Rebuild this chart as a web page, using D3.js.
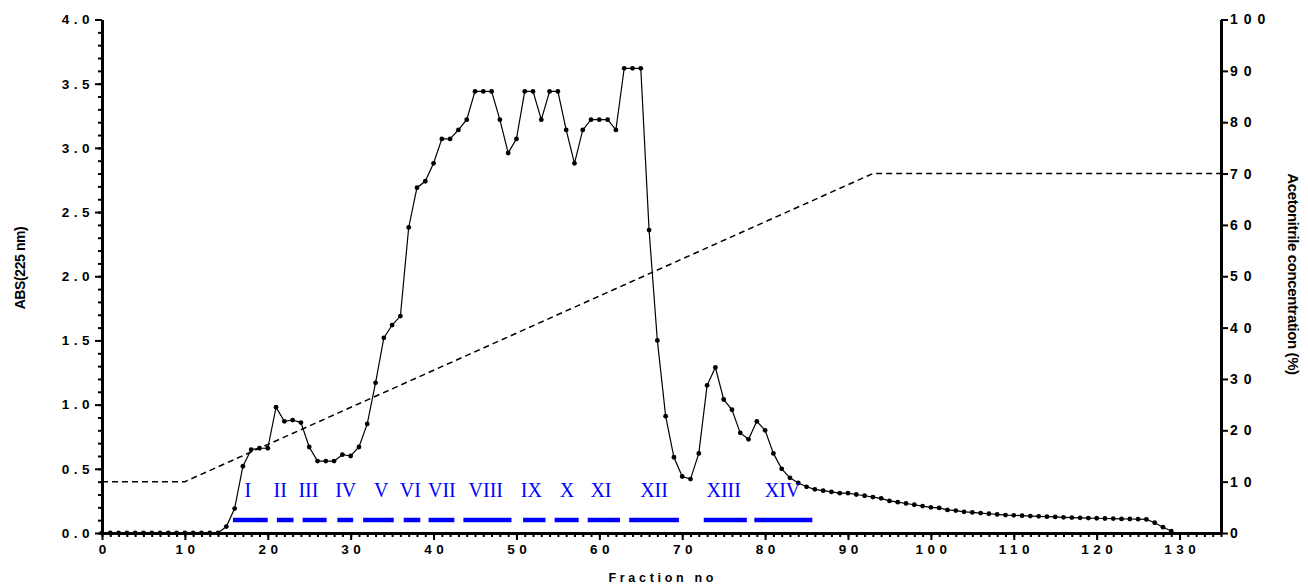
<!DOCTYPE html>
<html>
<head>
<meta charset="utf-8">
<script src="https://cdn.jsdelivr.net/npm/d3@7"></script>
<style>
  body { margin: 0; background: #fff; }
  svg { display: block; }
  .tick-label { font-family: "Liberation Sans", Arial, sans-serif; font-weight: bold; fill: #000; }
</style>
</head>
<body>
<svg id="chart" width="1308" height="586"></svg>
<script>
// absorbance at 225 nm, one value per fraction (fraction number = index)
const absValues = [
  0, 0, 0, 0, 0, 0, 0, 0, 0, 0,
  0, 0, 0, 0, 0, 0.05, 0.19, 0.52, 0.65, 0.66,
  0.66, 0.98, 0.87, 0.88, 0.86, 0.67, 0.56, 0.56, 0.56, 0.61,
  0.60, 0.67, 0.85, 1.17, 1.52, 1.62, 1.69, 2.38, 2.69, 2.74,
  2.88, 3.07, 3.07, 3.14, 3.22, 3.44, 3.44, 3.44, 3.22, 2.96,
  3.07, 3.44, 3.44, 3.22, 3.44, 3.44, 3.14, 2.88, 3.14, 3.22,
  3.22, 3.22, 3.14, 3.62, 3.62, 3.62, 2.36, 1.50, 0.91, 0.59,
  0.44, 0.42, 0.62, 1.15, 1.29, 1.04, 0.96, 0.78, 0.73, 0.87,
  0.80, 0.62, 0.50, 0.43, 0.39, 0.36, 0.34, 0.33, 0.32, 0.31,
  0.31, 0.30, 0.29, 0.28, 0.27, 0.25, 0.24, 0.23, 0.22, 0.21,
  0.20, 0.195, 0.18, 0.175, 0.165, 0.16, 0.155, 0.15, 0.145, 0.14,
  0.138, 0.135, 0.132, 0.13, 0.127, 0.125, 0.122, 0.12, 0.118, 0.116,
  0.115, 0.113, 0.112, 0.11, 0.109, 0.108, 0.106, 0.08, 0.045, 0.015
]

// acetonitrile gradient (%)
const gradientFraction = [0, 10, 93, 135]
const gradientPercent = [10, 10, 70, 70]

// pooled peaks
const poolNames = ["I", "II", "III", "IV", "V", "VI", "VII", "VIII", "IX", "X", "XI", "XII", "XIII", "XIV"]
const poolLabelAt = [17.6, 21.5, 24.9, 29.4, 33.7, 37.2, 41.0, 46.3, 51.8, 56.1, 60.2, 66.6, 75.0, 82.1]
const poolStart = [15.8, 21.1, 24.2, 28.4, 31.5, 36.4, 39.4, 43.6, 50.8, 54.6, 58.6, 63.6, 72.6, 78.7]
const poolEnd   = [20.0, 23.1, 27.1, 30.3, 35.2, 38.4, 42.5, 49.4, 53.5, 57.5, 62.5, 69.6, 77.8, 85.7]

// axis ticks
const xMajorTicks = [0, 10, 20, 30, 40, 50, 60, 70, 80, 90, 100, 110, 120, 130]
const yLeftTicks = [0, 0.5, 1.0, 1.5, 2.0, 2.5, 3.0, 3.5, 4.0]
const yRightTicks = [0, 10, 20, 30, 40, 50, 60, 70, 80, 90, 100]

const svg = d3.select("#chart")

const x = d3.scaleLinear().domain([0, 135]).range([102, 1221])
const y = d3.scaleLinear().domain([0, 4]).range([533, 19.5])
const y2 = d3.scaleLinear().domain([0, 100]).range([533, 19.5])

const fontFam = '"Liberation Sans", Arial, sans-serif'

// ---- gradient (dashed)
const gradLine = d3.line().x(d => x(d[0])).y(d => y2(d[1]))
svg.append("path")
  .attr("d", gradLine(gradientFraction.map((f, i) => [f, gradientPercent[i]])))
  .attr("fill", "none")
  .attr("stroke", "#000")
  .attr("stroke-width", 1.5)
  .attr("stroke-dasharray", "6,4")

// ---- absorbance trace
const absData = absValues.map((v, i) => ({ f: i, v: v }))
svg.append("path")
  .attr("d", d3.line().x(d => x(d.f)).y(d => y(d.v))(absData))
  .attr("fill", "none")
  .attr("stroke", "#000")
  .attr("stroke-width", 1.2)

svg.append("g").selectAll("circle")
  .data(absData)
  .join("circle")
    .attr("cx", d => x(d.f))
    .attr("cy", d => y(d.v))
    .attr("r", 2.4)
    .attr("fill", "#000")

// ---- pool bars & labels
const pools = poolNames.map((n, i) => ({ name: n, at: poolLabelAt[i], s: poolStart[i], e: poolEnd[i] }))
svg.append("g").selectAll("line")
  .data(pools)
  .join("line")
    .attr("x1", d => x(d.s))
    .attr("x2", d => x(d.e))
    .attr("y1", 520)
    .attr("y2", 520)
    .attr("stroke", "#0000ff")
    .attr("stroke-width", 4.5)

svg.append("g").selectAll("text")
  .data(pools)
  .join("text")
    .attr("x", d => x(d.at))
    .attr("y", 497)
    .attr("text-anchor", "middle")
    .attr("font-family", '"Liberation Serif", "Times New Roman", serif')
    .attr("font-size", 20)
    .attr("fill", "#0000ff")
    .text(d => d.name)

// ---- axes
function styleAxis(g) {
  g.select(".domain").attr("stroke", "#000").attr("stroke-width", 3)
  g.selectAll(".tick line").attr("stroke", "#000").attr("stroke-width", 2)
}

// x axis: minor ticks every fraction, major every 10
const xMinor = svg.append("g")
  .attr("transform", "translate(0,533)")
  .call(d3.axisBottom(x).tickValues(d3.range(0, 136, 1)).tickSize(4).tickFormat(""))
xMinor.select(".domain").remove()
xMinor.selectAll(".tick line").attr("stroke", "#000").attr("stroke-width", 2)

const xAxis = svg.append("g")
  .attr("transform", "translate(0,533)")
  .call(d3.axisBottom(x).tickValues(xMajorTicks).tickSize(7).tickSizeOuter(0).tickPadding(5))
styleAxis(xAxis)
xAxis.selectAll(".tick text")
  .attr("class", "tick-label")
  .attr("font-family", fontFam)
  .attr("font-size", 13.5)
  .attr("letter-spacing", 4.5)
  .attr("dx", 2.2)
  .attr("y", 11)
  .attr("dy", "0.71em")

// left axis
const yMinor = svg.append("g")
  .attr("transform", "translate(102,0)")
  .call(d3.axisLeft(y).tickValues(d3.range(0, 41, 1).map(d => d / 10)).tickSize(4).tickFormat(""))
yMinor.select(".domain").remove()
yMinor.selectAll(".tick line").attr("stroke", "#000").attr("stroke-width", 2)

const yAxis = svg.append("g")
  .attr("transform", "translate(102,0)")
  .call(d3.axisLeft(y).tickValues(yLeftTicks).tickSize(7).tickSizeOuter(0).tickFormat(d3.format(".1f")))
styleAxis(yAxis)
yAxis.selectAll(".tick text")
  .attr("class", "tick-label")
  .attr("font-family", fontFam)
  .attr("font-size", 13.5)
  .attr("letter-spacing", 4.5)
  .attr("x", -8)

// right axis
const y2Axis = svg.append("g")
  .attr("transform", "translate(1221,0)")
  .call(d3.axisRight(y2).tickValues(yRightTicks).tickSize(7).tickSizeOuter(0).tickPadding(2))
styleAxis(y2Axis)
y2Axis.selectAll(".tick text")
  .attr("class", "tick-label")
  .attr("font-family", fontFam)
  .attr("font-size", 14)
  .attr("letter-spacing", 6)

// ---- axis titles
svg.append("text")
  .attr("transform", "translate(661,582)")
  .attr("text-anchor", "middle")
  .attr("font-family", fontFam)
  .attr("font-weight", "bold")
  .attr("font-size", 12.5)
  .attr("letter-spacing", 3.7)
  .attr("dx", 1.8)
  .text("Fraction no")

svg.append("text")
  .attr("transform", "translate(25,268) rotate(-90)")
  .attr("text-anchor", "middle")
  .attr("font-family", fontFam)
  .attr("font-weight", "bold")
  .attr("font-size", 14)
  .attr("letter-spacing", -0.4)
  .text("ABS(225 nm)")

svg.append("text")
  .attr("transform", "translate(1288,274) rotate(90)")
  .attr("text-anchor", "middle")
  .attr("font-family", fontFam)
  .attr("font-weight", "bold")
  .attr("font-size", 15)
  .attr("letter-spacing", -0.4)
  .text("Acetonitrile concentration (%)")
</script>
</body>
</html>
